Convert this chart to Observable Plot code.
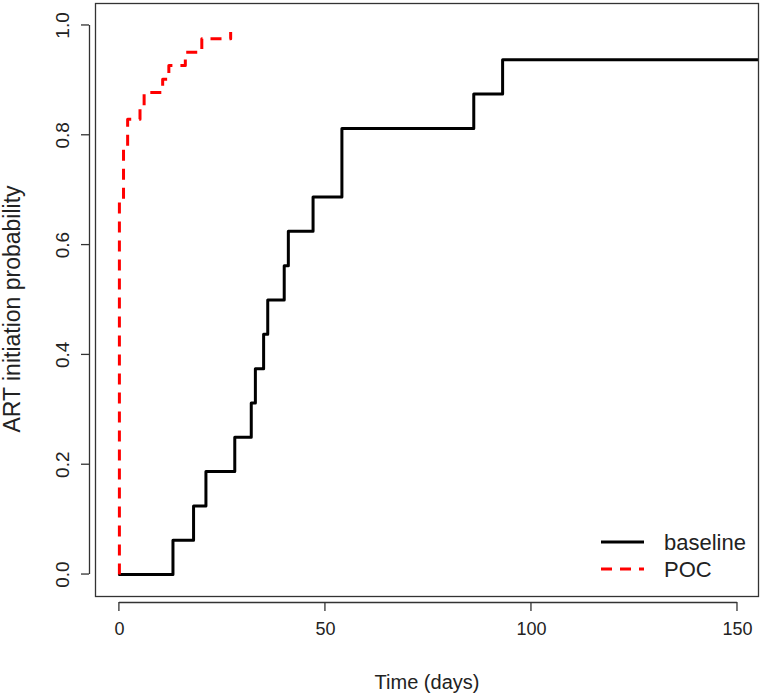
<!DOCTYPE html>
<html>
<head>
<meta charset="utf-8">
<script src="https://cdn.jsdelivr.net/npm/d3@7"></script>
<script src="https://cdn.jsdelivr.net/npm/@observablehq/plot@0.6"></script>
<style>
  html, body { margin: 0; padding: 0; background: #fff; }
  #chart { position: relative; width: 763px; height: 695px; }
  #legend { position: absolute; left: 598px; top: 527px; font-family: "Liberation Sans", Arial, sans-serif; }
</style>
</head>
<body>
<div id="chart"></div>
<script>
// ---- data ----
const seriesNames = ["baseline", "POC"];
const seriesColors = ["#000000", "#ff0000"];
const seriesDash = [null, "11,8"];

const baselineTime = [0, 13, 18, 21, 28, 32, 33, 35, 36, 40, 41, 47, 54, 86, 93, 156];
const baselineProb = [0, 0.0625, 0.125, 0.1875, 0.25, 0.3125, 0.375, 0.4375, 0.5, 0.5625, 0.625, 0.6875, 0.8125, 0.875, 0.9375, 0.9375];

const pocTime = [0, 0, 1, 2, 5, 6, 10.5, 12, 16, 20, 27];
const pocProb = [0, 0.683, 0.780, 0.829, 0.854, 0.878, 0.902, 0.927, 0.951, 0.976, 0.988];

const xTicks = [0, 50, 100, 150];
const yTicks = [0, 0.2, 0.4, 0.6, 0.8, 1.0];
const xDomain = [-5.8, 155.1];
const yDomain = [-0.04, 1.04];
const xTitle = "Time (days)";
const yTitle = "ART initiation probability";

// ---- build ----
const baseline = baselineTime.map((t, i) => ({t, p: baselineProb[i]}));
const poc = pocTime.map((t, i) => ({t, p: pocProb[i]}));

const W = 763, H = 695, ML = 95, MR = 5, MT = 3, MB = 99;
const axisGap = 6, tickLen = 8;
const font = "Liberation Sans, Arial, sans-serif";
const axisColor = "#333";
const textColor = "#222";

const chart = Plot.plot({
  width: W,
  height: H,
  marginLeft: ML,
  marginRight: MR,
  marginTop: MT,
  marginBottom: MB,
  style: {fontFamily: font, fontSize: "18px", color: textColor, background: "#fff"},
  x: {domain: xDomain, axis: null},
  y: {domain: yDomain, axis: null},
  marks: [
    Plot.line(baseline, {x: "t", y: "p", curve: "step-after", stroke: seriesColors[0], strokeWidth: 3, clip: true}),
    Plot.line(poc, {x: "t", y: "p", curve: "step-after", stroke: seriesColors[1], strokeWidth: 3, strokeDasharray: seriesDash[1], strokeLinecap: "butt"}),
    Plot.frame({stroke: axisColor, strokeWidth: 1.3}),
    // axis lines (offset from the box, R style)
    Plot.ruleY([yDomain[0]], {x1: xTicks[0], x2: xTicks[xTicks.length - 1], dy: axisGap, stroke: axisColor, strokeWidth: 1.3, clip: false}),
    Plot.ruleX([xDomain[0]], {y1: yTicks[0], y2: yTicks[yTicks.length - 1], dx: -axisGap, stroke: axisColor, strokeWidth: 1.3, clip: false}),
    Plot.text(xTicks, {x: d => d, frameAnchor: "bottom", dy: 38, fontSize: 18, fill: textColor, text: d => String(d)}),
    Plot.text(yTicks, {y: d => d, frameAnchor: "left", dx: -33, rotate: -90, textAnchor: "middle", fontSize: 19, fill: textColor, text: d3.format(".1f")}),
    Plot.text([xTitle], {frameAnchor: "bottom", dy: 92, fontSize: 20, fill: textColor, text: d => d}),
    Plot.text([yTitle], {frameAnchor: "left", dx: -83, dy: 9, rotate: -90, textAnchor: "middle", fontSize: 23, fill: textColor, text: d => d})
  ]
});
document.getElementById("chart").appendChild(chart);

// ---- tick marks, placed with Plot's own scales ----
const sx = chart.scale("x"), sy = chart.scale("y");
const svg = d3.select(chart);
const gT = svg.append("g").attr("stroke", axisColor).attr("stroke-width", 1.3);
const yBottom = sy.apply(yDomain[0]);
const xLeft = sx.apply(xDomain[0]);
xTicks.forEach(v => {
  const px = sx.apply(v);
  gT.append("line").attr("x1", px).attr("x2", px).attr("y1", yBottom + axisGap).attr("y2", yBottom + axisGap + tickLen + 1);
});
yTicks.forEach(v => {
  const py = sy.apply(v);
  gT.append("line").attr("y1", py).attr("y2", py).attr("x1", xLeft - axisGap).attr("x2", xLeft - axisGap - tickLen);
});

// ---- legend ----
const ns = "http://www.w3.org/2000/svg";
const leg = document.createElementNS(ns, "svg");
leg.setAttribute("width", 160);
leg.setAttribute("height", 60);
seriesNames.forEach((name, i) => {
  const y = 15 + i * 27;
  const line = document.createElementNS(ns, "line");
  line.setAttribute("x1", 3); line.setAttribute("x2", 46);
  line.setAttribute("y1", y); line.setAttribute("y2", y);
  line.setAttribute("stroke", seriesColors[i]);
  line.setAttribute("stroke-width", 3);
  if (seriesDash[i]) line.setAttribute("stroke-dasharray", seriesDash[i]);
  leg.appendChild(line);
  const tx = document.createElementNS(ns, "text");
  tx.setAttribute("x", 66); tx.setAttribute("y", y);
  tx.setAttribute("dy", "0.35em");
  tx.setAttribute("font-size", 22);
  tx.setAttribute("fill", textColor);
  tx.setAttribute("font-family", font);
  tx.textContent = name;
  leg.appendChild(tx);
});
const legDiv = document.createElement("div");
legDiv.id = "legend";
legDiv.appendChild(leg);
document.getElementById("chart").appendChild(legDiv);
</script>
</body>
</html>
